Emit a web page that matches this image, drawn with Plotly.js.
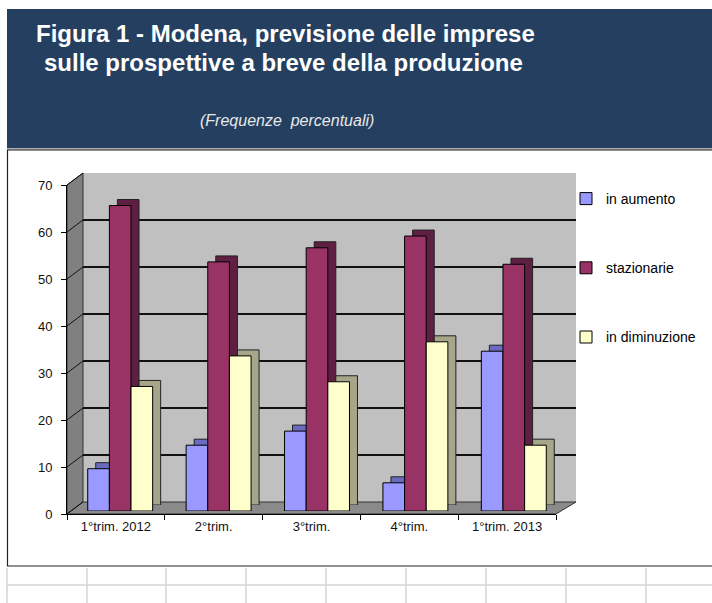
<!DOCTYPE html>
<html><head><meta charset="utf-8">
<script src="https://cdn.plot.ly/plotly-3.0.1.min.js"></script>
<style>html,body{margin:0;padding:0;background:#fff}#chart{width:712px;height:603px}</style>
</head><body><div id="chart"></div>
<script>
// ---- data ----
const categories = ["1°trim. 2012", "2°trim.", "3°trim.", "4°trim.", "1°trim. 2013"];
const seriesNames = ["in aumento", "stazionarie", "in diminuzione"];
const inAumento = [9, 14, 17, 6, 34];
const stazionarie = [65, 53, 56, 58.5, 52.5];
const inDiminuzione = [26.5, 33, 27.5, 36, 14];
const yTickVals = [0, 10, 20, 30, 40, 50, 60, 70];

// ---- styling ----
const W = 712, H = 603;
const px = x => x / W;
const py = y => 1 - y / H;
const frontColors = ["#9999FF", "#993366", "#FFFFCC"];
const sideColors = ["#6A6AC0", "#5E1F42", "#A6A68A"];
const seriesValues = [inAumento, stazionarie, inDiminuzione];
const FONT = "Liberation Sans, Arial, sans-serif";

const data = [];
// invisible trace to create the back wall subplot
data.push({type: "scatter", mode: "lines", x: categories, y: categories.map(() => null),
  xaxis: "x", yaxis: "y", showlegend: false, hoverinfo: "skip"});
// 3D depth (side/top) of bars
seriesValues.forEach((vals, i) => {
  data.push({type: "bar", x: categories, y: vals, xaxis: "x2", yaxis: "y2",
    marker: {color: sideColors[i], line: {color: "#222", width: 1}},
    showlegend: false, hoverinfo: "skip"});
});
// front faces of bars
seriesValues.forEach((vals, i) => {
  data.push({type: "bar", name: seriesNames[i], x: categories, y: vals, xaxis: "x3", yaxis: "y3",
    legendgroup: "g" + i,
    marker: {color: frontColors[i], line: {color: "#000", width: 1}}});
});
// front axes
data.push({type: "scatter", mode: "lines", x: categories, y: categories.map(() => null),
  xaxis: "x4", yaxis: "y4", showlegend: false, hoverinfo: "skip"});

const hidden = {showgrid: false, zeroline: false, showticklabels: false, ticks: "", showline: false, fixedrange: true};

const shapes = [];
// header
shapes.push({type: "rect", xref: "paper", yref: "paper", x0: px(7), x1: px(712), y0: py(148), y1: py(9),
  fillcolor: "#243F60", line: {width: 0}, layer: "below"});
shapes.push({type: "line", xref: "paper", yref: "paper", x0: px(7), x1: px(712), y0: py(149), y1: py(149),
  line: {color: "#9a9a9a", width: 1.5}, layer: "below"});
// chart box
shapes.push({type: "rect", xref: "paper", yref: "paper", x0: px(7.5), x1: px(740), y0: py(566), y1: py(150),
  line: {color: "#222", width: 1.2}, layer: "below"});
// spreadsheet cells below
[7, 87, 166, 246, 326, 406, 486, 566, 646].forEach(x => {
  shapes.push({type: "line", xref: "paper", yref: "paper", x0: px(x), x1: px(x), y0: py(568), y1: py(603),
    line: {color: "#D4D4D4", width: 1.5}, layer: "below"});
});
shapes.push({type: "line", xref: "paper", yref: "paper", x0: px(7), x1: px(712), y0: py(585), y1: py(585),
  line: {color: "#D4D4D4", width: 1.5}, layer: "below"});
// back wall
shapes.push({type: "rect", xref: "paper", yref: "paper", x0: px(83), x1: px(576), y0: py(502), y1: py(173),
  fillcolor: "#C0C0C0", line: {width: 0}, layer: "below"});
// left wall
shapes.push({type: "path", xref: "paper", yref: "paper",
  path: `M ${px(67)} ${py(514)} L ${px(67)} ${py(185)} L ${px(83)} ${py(173)} L ${px(83)} ${py(502)} Z`,
  fillcolor: "#808080", line: {color: "#333", width: 1}, layer: "below"});
// floor
shapes.push({type: "path", xref: "paper", yref: "paper",
  path: `M ${px(67)} ${py(514)} L ${px(556)} ${py(514)} L ${px(576)} ${py(502)} L ${px(83)} ${py(502)} Z`,
  fillcolor: "#8A8A8A", line: {color: "#333", width: 1}, layer: "below"});
// left-wall grid diagonals
yTickVals.forEach(v => {
  const yf = 514 - v * 329 / 70, yb = 502 - v * 329 / 70;
  shapes.push({type: "line", xref: "paper", yref: "paper", x0: px(67), x1: px(83), y0: py(yf), y1: py(yb),
    line: {color: "#111", width: 1}, layer: "below"});
});

const layout = {
  width: W, height: H,
  margin: {l: 0, r: 0, t: 0, b: 0, pad: 0},
  paper_bgcolor: "#fff", plot_bgcolor: "rgba(0,0,0,0)",
  font: {family: FONT, size: 12, color: "#000"},
  barmode: "group", bargap: 0.34, bargroupgap: 0,
  showlegend: true,
  legend: {x: px(566), y: py(183), xanchor: "left", yanchor: "top", bgcolor: "rgba(0,0,0,0)",
    font: {family: FONT, size: 14, color: "#000"}, tracegroupgap: 48, itemwidth: 30},
  xaxis: Object.assign({domain: [px(83), px(576)], type: "category", range: [-0.5, 4.5]}, hidden),
  yaxis: {domain: [py(502), py(173)], range: [0, 70], tickvals: [10, 20, 30, 40, 50, 60, 70],
    showgrid: true, gridcolor: "#111", gridwidth: 1.6, zeroline: false, showticklabels: false,
    ticks: "", showline: false, fixedrange: true},
  xaxis2: Object.assign({domain: [px(79), px(571)], type: "category", range: [-0.5, 4.5], anchor: "y2"}, hidden),
  yaxis2: Object.assign({domain: [py(505), py(176)], range: [0, 70], anchor: "x2"}, hidden),
  xaxis3: Object.assign({domain: [px(71), px(563)], type: "category", range: [-0.5, 4.5], anchor: "y3"}, hidden),
  yaxis3: Object.assign({domain: [py(511), py(182)], range: [0, 70], anchor: "x3"}, hidden),
  xaxis4: {domain: [px(67), px(556)], type: "category", range: [-0.5, 4.5], anchor: "y4",
    showgrid: false, zeroline: false, showline: true, linecolor: "#000", linewidth: 1,
    ticks: "outside", ticklen: 5, tickcolor: "#000", tickwidth: 1, tickson: "boundaries",
    tickfont: {family: FONT, size: 13, color: "#111"}, fixedrange: true},
  yaxis4: {domain: [py(514), py(185)], range: [0, 70], tickvals: yTickVals, anchor: "x4",
    showgrid: false, zeroline: false, showline: true, linecolor: "#000", linewidth: 1,
    ticks: "outside", ticklen: 5, tickcolor: "#000", tickwidth: 1, ticklabelstandoff: 6,
    tickfont: {family: FONT, size: 13, color: "#111"}, fixedrange: true},
  shapes: shapes,
  annotations: [
    {xref: "paper", yref: "paper", x: px(34), y: py(34), xanchor: "left", yanchor: "middle", showarrow: false,
      text: "<b>Figura 1 - Modena, previsione delle imprese</b>", font: {family: FONT, size: 24, color: "#fff"}},
    {xref: "paper", yref: "paper", x: px(42), y: py(62.5), xanchor: "left", yanchor: "middle", showarrow: false,
      text: "<b>sulle prospettive a breve della produzione</b>", font: {family: FONT, size: 24, color: "#fff"}},
    {xref: "paper", yref: "paper", x: px(198), y: py(121), xanchor: "left", yanchor: "middle", showarrow: false,
      text: "<i>(Frequenze \u00a0percentuali)</i>", font: {family: FONT, size: 16, color: "#e8e8e8"}}
  ]
};

Plotly.newPlot("chart", data, layout, {displayModeBar: false, staticPlot: true});
</script>
</body></html>
